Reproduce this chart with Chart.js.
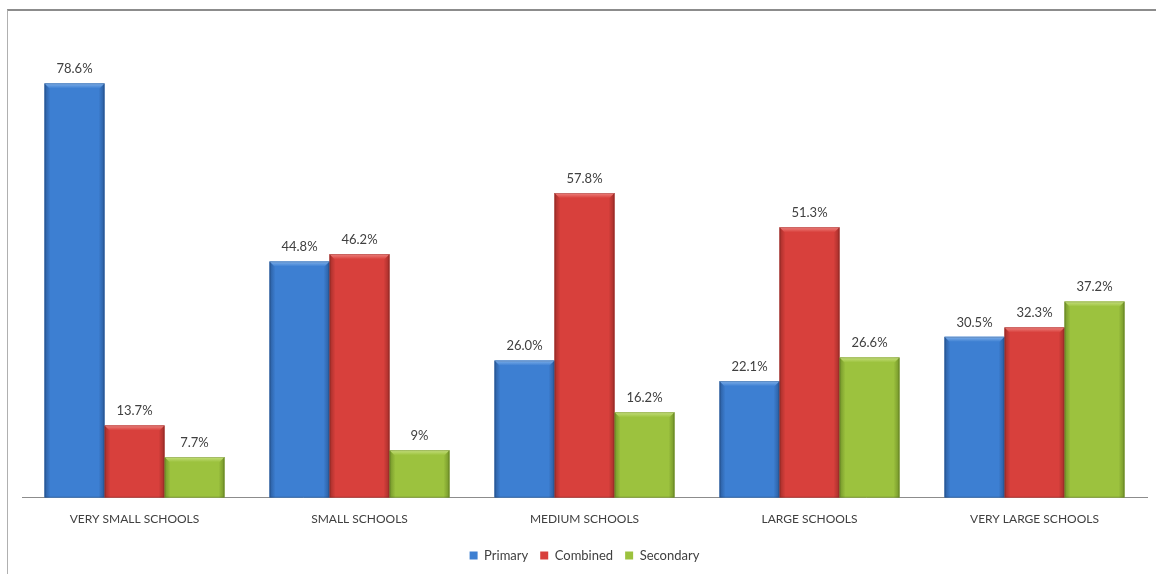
<!DOCTYPE html>
<html>
<head>
<meta charset="utf-8">
<script src="https://cdn.jsdelivr.net/npm/chart.js@4.4.1/dist/chart.umd.min.js"></script>
<style>
    html, body { margin: 0; padding: 0; background: #fff; }
    #wrap { position: relative; width: 1156px; height: 574px; }
    #frame {
        position: absolute; left: 7px; top: 9px; right: -2px; bottom: -2px;
        border-top: 2px solid #8c8c8c; border-left: 1px solid #b0b0b0;
        pointer-events: none;
    }
</style>
</head>
<body>
<div id="wrap">
    <canvas id="chart" width="1156" height="574"></canvas>
    <div id="frame"></div>
</div>
<script>
// Data
const categories = ['VERY SMALL SCHOOLS', 'SMALL SCHOOLS', 'MEDIUM SCHOOLS', 'LARGE SCHOOLS', 'VERY LARGE SCHOOLS'];
const primary = [78.6, 44.8, 26.0, 22.1, 30.5];
const combined = [13.7, 46.2, 57.8, 51.3, 32.3];
const secondary = [7.7, 9, 16.2, 26.6, 37.2];
const primaryText = ['78.6%', '44.8%', '26.0%', '22.1%', '30.5%'];
const combinedText = ['13.7%', '46.2%', '57.8%', '51.3%', '32.3%'];
const secondaryText = ['7.7%', '9%', '16.2%', '26.6%', '37.2%'];

const FONT = 'Lato, "Open Sans", sans-serif';
const TEXT = '#404040';

// Bevelled bar look, drawn over the library's bars
const shades = [
    { base: '#3d7fd2', edge: '#2a5c9e', top: '#7fb0ea' },
    { base: '#d8403c', edge: '#a42e2a', top: '#ef8480' },
    { base: '#9cc23e', edge: '#74952a', top: '#c6e07e' }
];

const bevelPlugin = {
    id: 'bevel',
    afterDatasetsDraw(chart) {
        const ctx = chart.ctx;
        chart.data.datasets.forEach((ds, i) => {
            const meta = chart.getDatasetMeta(i);
            const s = shades[i];
            meta.data.forEach(bar => {
                const left = bar.x - bar.width / 2;
                const w = bar.width;
                const top = bar.y;
                const h = bar.base - bar.y;

                const g = ctx.createLinearGradient(left, 0, left + w, 0);
                g.addColorStop(0, s.edge);
                g.addColorStop(0.1, s.base);
                g.addColorStop(0.9, s.base);
                g.addColorStop(1, s.edge);
                ctx.fillStyle = g;
                ctx.fillRect(left, top, w, h);

                // top bevel
                const b = 5;
                const tg = ctx.createLinearGradient(0, top, 0, top + b);
                tg.addColorStop(0, s.top);
                tg.addColorStop(1, s.base);
                ctx.fillStyle = tg;
                ctx.beginPath();
                ctx.moveTo(left, top);
                ctx.lineTo(left + w, top);
                ctx.lineTo(left + w - b, top + b);
                ctx.lineTo(left + b, top + b);
                ctx.closePath();
                ctx.fill();

                ctx.strokeStyle = 'rgba(0,0,0,0.15)';
                ctx.lineWidth = 1;
                ctx.strokeRect(left + 0.5, top + 0.5, w - 1, h - 1);
            });
        });
    }
};

const labelPlugin = {
    id: 'valueLabels',
    afterDatasetsDraw(chart) {
        const ctx = chart.ctx;
        const texts = [primaryText, combinedText, secondaryText];
        ctx.save();
        ctx.font = '13px ' + FONT;
        ctx.fillStyle = TEXT;
        ctx.textAlign = 'center';
        ctx.textBaseline = 'bottom';
        chart.data.datasets.forEach((ds, i) => {
            chart.getDatasetMeta(i).data.forEach((bar, j) => {
                ctx.fillText(texts[i][j], bar.x, bar.y - 8);
            });
        });
        ctx.restore();
    }
};

new Chart(document.getElementById('chart'), {
    type: 'bar',
    data: {
        labels: categories,
        datasets: [
            { label: 'Primary', data: primary, backgroundColor: shades[0].base },
            { label: 'Combined', data: combined, backgroundColor: shades[1].base },
            { label: 'Secondary', data: secondary, backgroundColor: shades[2].base }
        ]
    },
    options: {
        responsive: false,
        animation: false,
        categoryPercentage: 0.8,
        barPercentage: 1.0,
        layout: { padding: { left: 22, right: 9, top: 76, bottom: 2 } },
        plugins: {
            tooltip: { enabled: false },
            legend: {
                position: 'bottom',
                labels: {
                    boxWidth: 8,
                    boxHeight: 8,
                    padding: 12,
                    color: TEXT,
                    font: { family: FONT, size: 13 }
                }
            }
        },
        scales: {
            x: {
                grid: { display: false, drawTicks: false },
                border: { color: '#8c8c8c' },
                ticks: { color: TEXT, font: { family: FONT, size: 12 }, padding: 14 },
                afterFit: scale => { scale.height -= 3; }
            },
            y: {
                display: false,
                min: 0,
                max: 80
            }
        }
    },
    plugins: [bevelPlugin, labelPlugin]
});
</script>
</body>
</html>
